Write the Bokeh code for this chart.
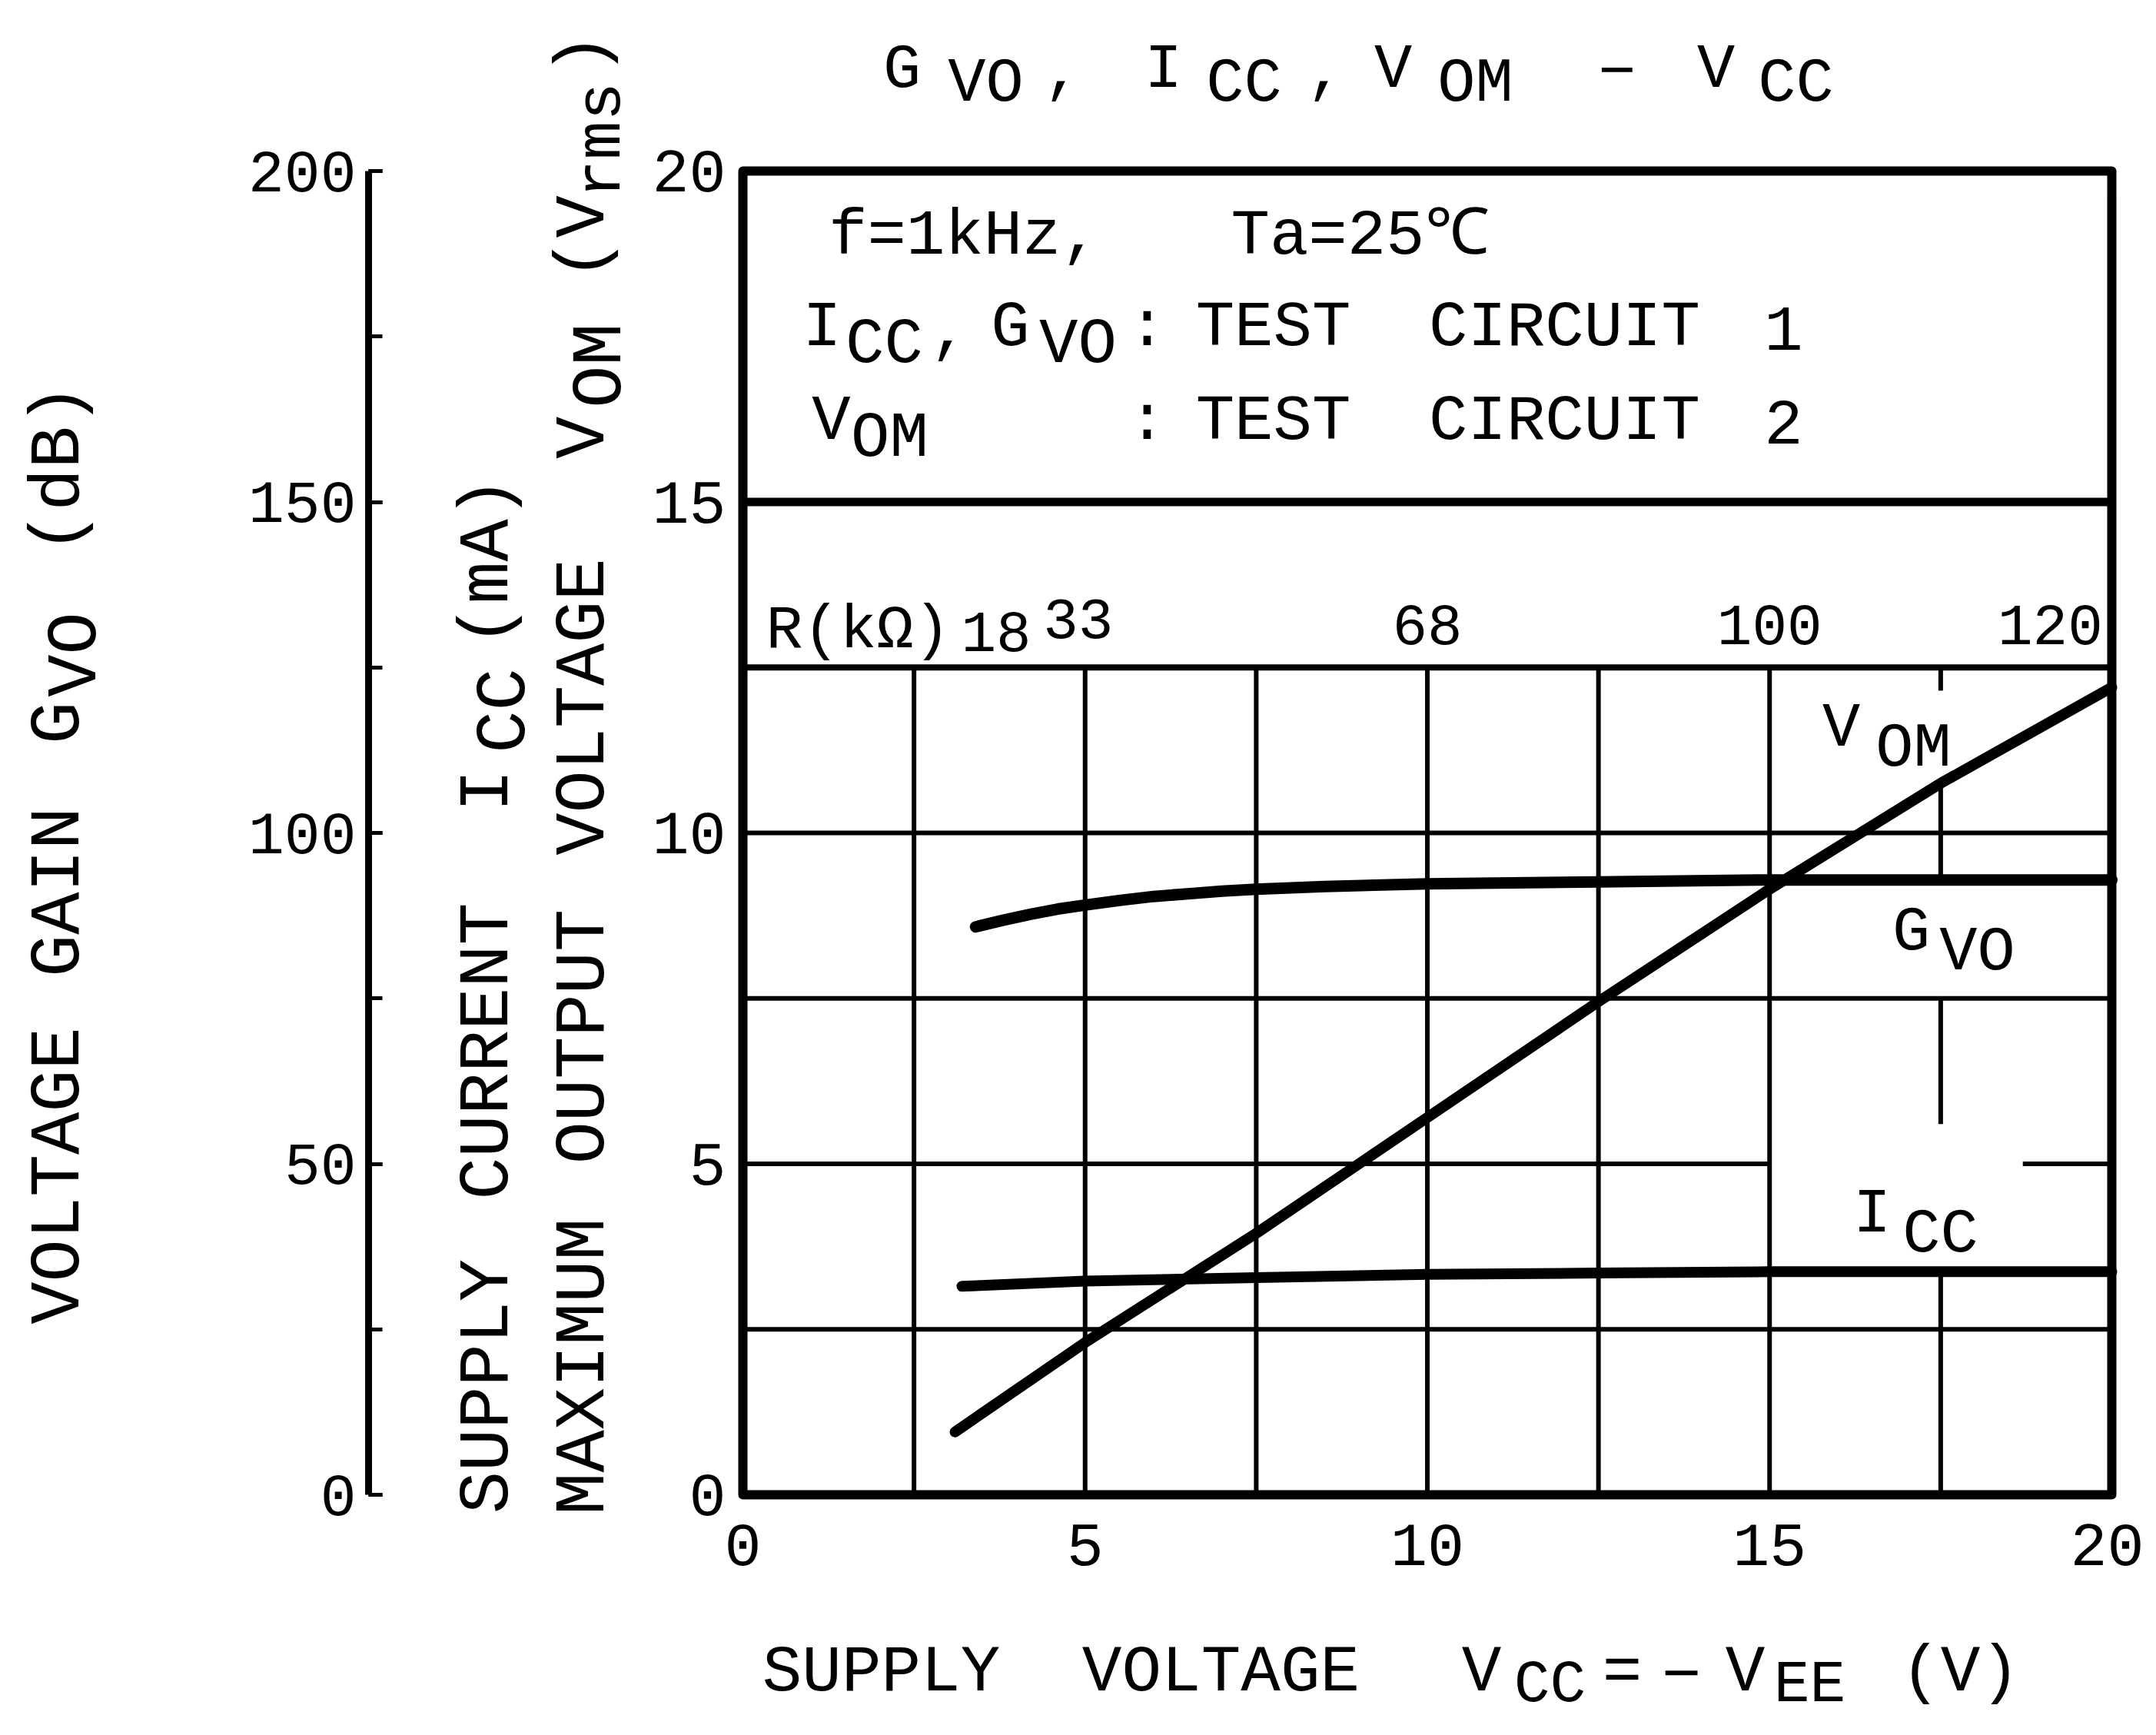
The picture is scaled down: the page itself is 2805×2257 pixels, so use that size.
from math import pi
from bokeh.plotting import figure
from bokeh.models import Range1d, LinearAxis, SingleIntervalTicker, Label, ColumnDataSource
from bokeh.core.properties import value
from bokeh.embed import file_html
from bokeh.resources import INLINE

# ---------------- data ----------------
# supply voltage Vcc (V) -> maximum output voltage (Vrms)
vcc_vom = [3.1, 5.0, 7.5, 10.0, 12.5, 15.0, 17.5, 20.0]
vom_vrms = [0.95, 2.3, 3.95, 5.7, 7.45, 9.15, 10.75, 12.2]

# supply voltage Vcc (V) -> voltage gain (dB)
vcc_gvo = [3.4, 3.8, 4.2, 4.6, 5.0, 5.5, 6.0, 6.5, 7.0, 7.5, 8.5, 10.0, 12.5, 15.0, 17.5, 20.0]
gvo_db = [85.8, 86.8, 87.7, 88.5, 89.1, 89.8, 90.4, 90.8, 91.2, 91.5, 91.9, 92.3, 92.6, 92.9, 92.9, 92.9]

# supply voltage Vcc (V) -> supply current (mA)
vcc_icc = [3.2, 5.0, 7.5, 10.0, 12.5, 15.0, 17.5, 20.0]
icc_ma = [3.15, 3.23, 3.28, 3.33, 3.35, 3.37, 3.37, 3.37]

# resistor scale printed above the grid
r_labels = ["18", "33", "68", "100", "120"]
r_vcc = [3.7, 4.9, 10.0, 15.0, 19.1]

# axis ticks
vcc_ticks = [0, 5, 10, 15, 20]
gvo_ticks_db = [0, 50, 100, 150, 200]

FONT = "Liberation Mono"

# page geometry: the plot box of the reference (page px) maps to 0..20 on both axes
L, R, T, B = 974.0, 2755.0, 230.0, 1952.0
W, H = 2789, 2241
OFF = 8


def dx(px):
    return (px - L) / (R - L) * 20.0


def dy(py):
    return (B - py) / (B - T) * 20.0


p = figure(width=W, height=H,
           x_range=Range1d(dx(OFF), dx(OFF + W)), y_range=Range1d(dy(OFF + H), dy(OFF)),
           output_backend="svg", toolbar_location=None,
           x_axis_type=None, y_axis_type=None,
           min_border_left=0, min_border_top=0, min_border_right=0, min_border_bottom=0)
p.extra_y_ranges = {"gvo": Range1d(dy(OFF + H) * 10, dy(OFF) * 10)}
p.outline_line_color = None
p.background_fill_color = "white"
p.border_fill_color = "white"

# x axis (supply voltage)
xax = LinearAxis(ticker=SingleIntervalTicker(interval=5, num_minor_ticks=0),
                 fixed_location=0, bounds=(min(vcc_ticks), max(vcc_ticks)),
                 axis_line_color=None, major_tick_in=0, major_tick_out=0,
                 minor_tick_in=0, minor_tick_out=0, major_label_standoff=38,
                 major_label_text_font=FONT, major_label_text_font_size="80px",
                 major_label_text_color="black")
p.add_layout(xax, "below")

# inner left axis 0-20 (V_OM in Vrms, I_CC in mA)
yax = LinearAxis(ticker=SingleIntervalTicker(interval=5, num_minor_ticks=0),
                 fixed_location=0, bounds=(0, 20),
                 axis_line_color=None, major_tick_in=0, major_tick_out=0,
                 minor_tick_in=0, minor_tick_out=0, major_label_standoff=22,
                 major_label_text_font=FONT, major_label_text_font_size="80px",
                 major_label_text_color="black")
p.add_layout(yax, "left")

# outer left axis 0-200 dB (G_VO)
gax = LinearAxis(y_range_name="gvo",
                 ticker=SingleIntervalTicker(interval=50, num_minor_ticks=2),
                 fixed_location=dx(487), bounds=(min(gvo_ticks_db), max(gvo_ticks_db)),
                 axis_line_color="black", axis_line_width=9,
                 major_tick_in=18, major_tick_out=0, minor_tick_in=18, minor_tick_out=0,
                 major_tick_line_width=5, minor_tick_line_width=5,
                 major_label_standoff=16,
                 major_label_text_font=FONT, major_label_text_font_size="78px",
                 major_label_text_color="black")
p.add_layout(gax, "left")

# ---------------- grid ----------------
gx0, gy0, gx1, gy1 = [], [], [], []
for xv in [2.5, 5, 7.5, 10, 12.5, 15]:
    gx0.append(xv); gy0.append(0); gx1.append(xv); gy1.append(12.5)
for (a, b) in [(0, 3.37), (5.6, 7.5), (9.3, 10.7), (12.15, 12.5)]:
    gx0.append(17.5); gy0.append(a); gx1.append(17.5); gy1.append(b)
for (yv, a, b) in [(2.5, 0, 20), (5, 0, 15), (5, 18.7, 20), (7.5, 0, 20), (10, 0, 20)]:
    gx0.append(a); gy0.append(yv); gx1.append(b); gy1.append(yv)
p.segment(gx0, gy0, gx1, gy1, line_color="black", line_width=6)
p.segment([0], [12.5], [20], [12.5], line_color="black", line_width=8)
p.segment([0], [15], [20], [15], line_color="black", line_width=11)
# plot box
p.quad(left=[0], right=[20], bottom=[0], top=[20], fill_color=None,
       line_color="black", line_width=12, line_join="round")

# ---------------- curves ----------------
p.line(vcc_vom, vom_vrms, line_color="black", line_width=14, line_cap="round", line_join="round")
p.line(vcc_gvo, gvo_db, y_range_name="gvo", line_color="black", line_width=15,
       line_cap="round", line_join="round")
p.line(vcc_icc, icc_ma, line_color="black", line_width=14, line_cap="round", line_join="round")


# ---------------- texts ----------------
def put(text, px, py, size, angle=0.0, align="center"):
    # (px, py) is the baseline point in page px; shift compensates the baseline offset
    k = 0.21 * size
    if angle:
        px -= k
    else:
        py -= k
    p.add_layout(Label(x=dx(px), y=dy(py), text=text, angle=angle,
                       text_align=align, text_baseline="alphabetic",
                       text_font=FONT, text_font_size=f"{size}px", text_color="black"))


# chart title
TS = 82
for t, x, sub in [("G", 1181, 0), ("VO", 1290, 1), (",", 1390, 0), ("I", 1521, 0),
                  ("CC", 1626, 1), (",", 1732, 0), ("V", 1820, 0), ("OM", 1927, 1),
                  ("\u2212", 2111, 0), ("V", 2240, 0), ("CC", 2344, 1)]:
    put(t, x, 134 if sub else 116, TS)

# conditions box
BS = 84
put("f=1kHz,", 1262, 333, BS)
put("Ta=25\u2103", 1777, 333, BS)
for t, x, sub in [("I", 1077, 0), ("CC", 1158, 1), (",", 1243, 0), ("G", 1322, 0),
                  ("VO", 1410, 1), (":", 1500, 0), ("TEST", 1664, 0),
                  ("CIRCUIT", 2043, 0), ("1", 2328, 0)]:
    put(t, x, 474 if sub else 452, BS)
for t, x, sub in [("V", 1089, 0), ("OM", 1165, 1), (":", 1500, 0), ("TEST", 1664, 0),
                  ("CIRCUIT", 2043, 0), ("2", 2328, 0)]:
    put(t, x, 596 if sub else 574, BS)

# resistor scale
put("R(k\u03a9)", 1124, 845, 80)
rsrc = ColumnDataSource(dict(x=r_vcc, y=[dy(836)] * len(r_vcc), text=r_labels,
                             yo=[(9 if s == "18" else (-8 if s == "33" else 0)) - 16 for s in r_labels]))
p.text(x="x", y="y", text="text", source=rsrc, y_offset="yo", text_align="center",
       text_baseline="alphabetic", text_font=value(FONT), text_font_size="76px",
       text_color="black")

# curve labels
CS = 82
put("V", 2403, 973, CS); put("OM", 2497, 999, CS)
put("G", 2494, 1238, CS); put("VO", 2580, 1264, CS)
put("I", 2443, 1605, CS); put("CC", 2532, 1631, CS)

# x axis title
XS = 86
for t, x, sub in [("SUPPLY", 1154, 0), ("VOLTAGE", 1596, 0), ("V", 1935, 0), ("CC", 2024, 1),
                  ("=", 2118, 0), ("\u2212", 2195, 0), ("V", 2278, 0), ("EE", 2362, 1),
                  ("(V)", 2558, 0)]:
    put(t, x, 2216 if sub else 2202, 78 if sub else XS)

# rotated y axis titles (reading bottom to top, baseline on the right side)
YS = 92
for t, y, sub in [("VOLTAGE", 1537, 0), ("GAIN", 1168, 0), ("G", 948, 0), ("VO", 859, 1),
                  ("(dB)", 617, 0)]:
    put(t, 126 if sub else 104, y, YS, angle=pi / 2)
for t, y, sub in [("SUPPLY", 1811, 0), ("CURRENT", 1375, 0), ("I", 1036, 0), ("CC", 932, 1),
                  ("(mA)", 738, 0)]:
    put(t, 684 if sub else 662, y, YS, angle=pi / 2)
for t, y, sub in [("MAXIMUM", 1785, 0), ("OUTPUT", 1356, 0), ("VOLTAGE", 927, 0), ("V", 577, 0),
                  ("OM", 483, 1), ("(V", 317, 0), ("rms", 190, 1), (")", 78, 0)]:
    put(t, 809 if sub else 787, y, 84 if t == "rms" else YS, angle=pi / 2)

open("out.html", "w").write(file_html(p, INLINE))
